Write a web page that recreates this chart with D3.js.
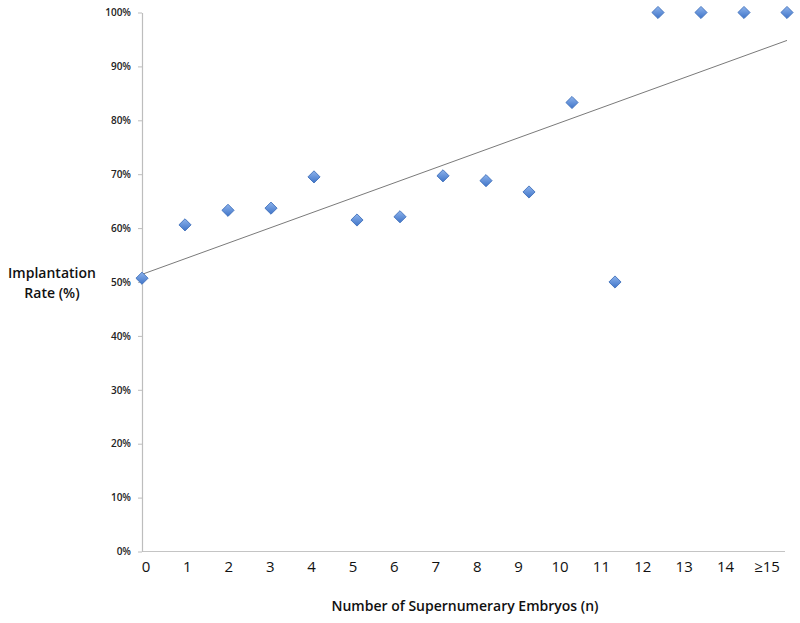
<!DOCTYPE html>
<html>
<head>
<meta charset="utf-8">
<script src="https://cdn.jsdelivr.net/npm/d3@7"></script>
<style>
  html, body { margin: 0; padding: 0; background: #fff; }
  svg { display: block; }
</style>
</head>
<body>
<svg id="chart" width="800" height="623"></svg>
<script>
// ---- data ----
const categories = [0, 1, 2, 3, 4, 5, 6, 7, 8, 9, 10, 11, 12, 13, 14, 15];
const categoryLabels = ["0", "1", "2", "3", "4", "5", "6", "7", "8", "9", "10", "11", "12", "13", "14", "≥15"];
const implantationRate = [50.7, 60.6, 63.3, 63.7, 69.5, 61.5, 62.1, 69.7, 68.8, 66.7, 83.3, 50.0, 100, 100, 100, 100];
const yTicks = [0, 10, 20, 30, 40, 50, 60, 70, 80, 90, 100];
const yTitleLines = ["Implantation", "Rate (%)"];
const xTitle = "Number of Supernumerary Embryos (n)";

// ---- layout ----
const svg = d3.select("#chart");
const x = d3.scaleLinear().domain([0, 15]).range([142, 787]);
const xLabel = d3.scaleLinear().domain([0, 15]).range([146, 767]);
const y = d3.scaleLinear().domain([0, 100]).range([551.5, 12.5]);

// x axis line
const xAxis = d3.axisBottom(xLabel).tickValues([]).tickSize(0).tickSizeOuter(0);
svg.append("line")
  .attr("x1", x(0)).attr("x2", 785)
  .attr("y1", y(0)).attr("y2", y(0))
  .attr("stroke", "#c4c4c4").attr("stroke-width", 1.2);

// x tick labels
svg.append("g").selectAll("text")
  .data(categories)
  .join("text")
  .attr("x", d => xLabel(d))
  .attr("y", 572)
  .attr("text-anchor", "middle")
  .attr("font-family", "'Open Sans', sans-serif")
  .attr("font-size", 15)
  .attr("fill", "#111")
  .text((d, i) => categoryLabels[i]);

// y axis
const yAxis = d3.axisLeft(y)
  .tickValues(yTicks)
  .tickSize(4)
  .tickSizeOuter(0)
  .tickPadding(7)
  .tickFormat(d => d + "%");
const gy = svg.append("g")
  .attr("transform", `translate(${x(0)},0)`)
  .call(yAxis);
gy.select(".domain").attr("stroke", "#bdbdbd").attr("stroke-width", 1.2);
gy.selectAll(".tick line").attr("stroke", "#bdbdbd");
gy.selectAll(".tick text")
  .attr("font-family", "'Open Sans', sans-serif")
  .attr("font-size", 10)
  .attr("font-weight", 600)
  .attr("fill", "#222");

// trendline (least squares)
const n = categories.length;
const mx = d3.mean(categories), my = d3.mean(implantationRate);
let sxy = 0, sxx = 0;
categories.forEach((c, i) => { sxy += (c - mx) * (implantationRate[i] - my); sxx += (c - mx) ** 2; });
const slope = sxy / sxx, intercept = my - slope * mx;
svg.append("line")
  .attr("x1", x(0)).attr("y1", y(intercept))
  .attr("x2", x(15)).attr("y2", y(intercept + slope * 15))
  .attr("stroke", "#7a7a7a").attr("stroke-width", 1);

// markers
const defs = svg.append("defs");
const grad = defs.append("linearGradient").attr("id", "mk")
  .attr("x1", "0").attr("y1", "0").attr("x2", "1").attr("y2", "1");
grad.append("stop").attr("offset", "0%").attr("stop-color", "#8db3ec");
grad.append("stop").attr("offset", "100%").attr("stop-color", "#3f74c8");

const sym = d3.symbol().type(d3.symbolSquare).size(74);
svg.append("g").selectAll("path")
  .data(categories)
  .join("path")
  .attr("d", sym)
  .attr("transform", (d, i) => `translate(${x(d)},${y(implantationRate[i])}) rotate(45)`)
  .attr("fill", "url(#mk)")
  .attr("stroke", "#3a6bb8")
  .attr("stroke-width", 0.8);

// y title
svg.append("text")
  .attr("x", 52).attr("y", 278)
  .attr("text-anchor", "middle")
  .attr("font-family", "'Open Sans', sans-serif")
  .attr("font-size", 14)
  .attr("font-weight", 600)
  .attr("fill", "#111")
  .selectAll("tspan")
  .data(yTitleLines)
  .join("tspan")
  .attr("x", 52)
  .attr("dy", (d, i) => i === 0 ? 0 : 20)
  .text(d => d);

// x title
svg.append("text")
  .attr("x", 465).attr("y", 611)
  .attr("text-anchor", "middle")
  .attr("font-family", "'Open Sans', sans-serif")
  .attr("font-size", 14)
  .attr("font-weight", 600)
  .attr("fill", "#111")
  .text(xTitle);
</script>
</body>
</html>
